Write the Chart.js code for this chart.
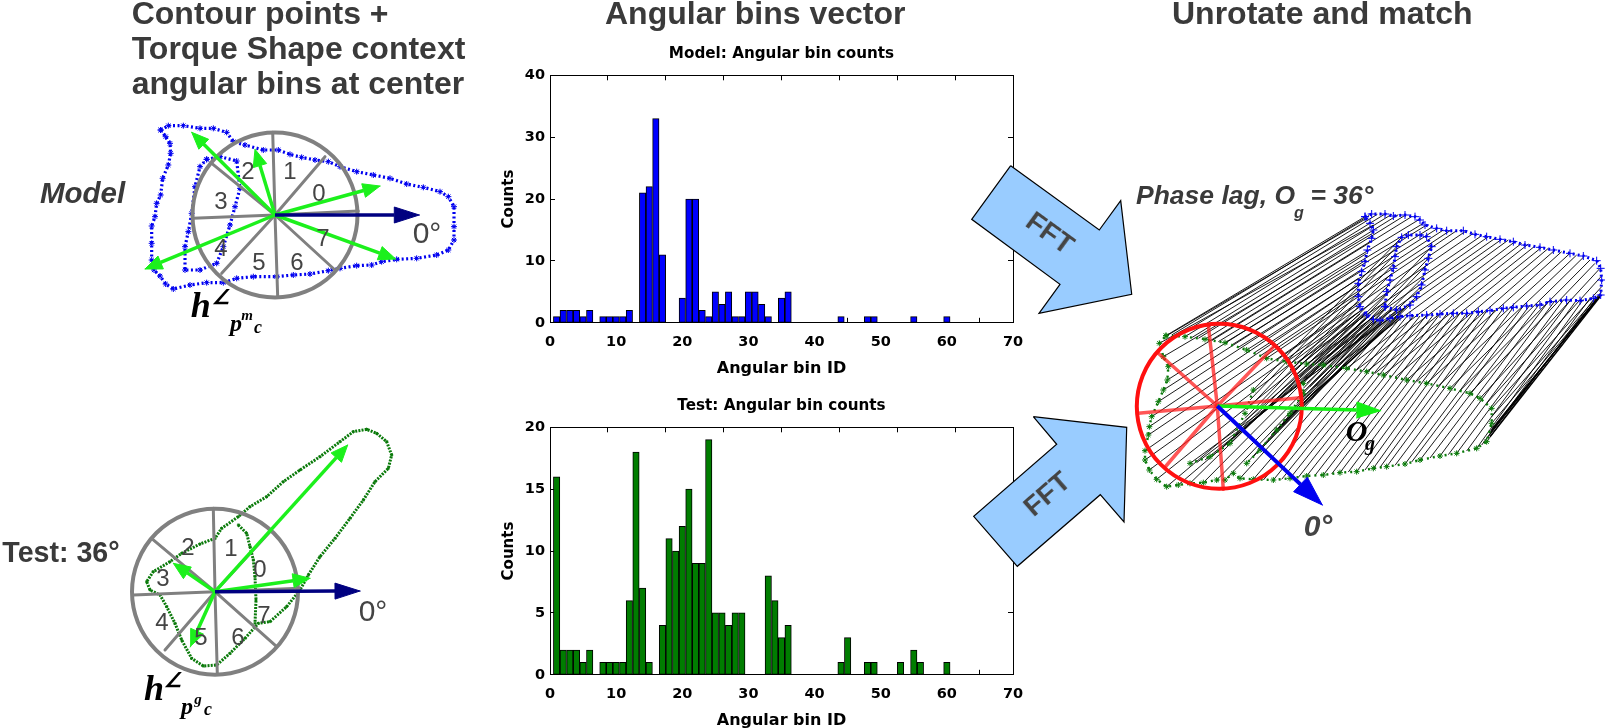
<!DOCTYPE html>
<html><head><meta charset="utf-8">
<script src="https://cdn.jsdelivr.net/npm/chart.js@4/dist/chart.umd.min.js"></script>
<style>
html,body{margin:0;padding:0;background:#fff;width:1605px;height:728px;overflow:hidden}
canvas{position:absolute}
.t{position:absolute;white-space:nowrap;font-family:"Liberation Sans",sans-serif;color:#3c3c3c;line-height:1}
.c{transform:translate(-50%,-50%)}
</style></head><body>
<canvas id="hModel" width="599" height="345" style="left:480px;top:35px;width:599px;height:345px"></canvas>
<canvas id="hTest" width="599" height="345" style="left:480px;top:387px;width:599px;height:345px"></canvas>
<canvas id="fig" width="1605" height="728" style="left:0;top:0;width:1605px;height:728px"></canvas>
<div id="labels"></div>
<script>
// ---------- histogram data ----------
const modelBins   = [1,2,3,4,5,6,8,9,10,11,12,14,15,16,17,20,21,22,23,24,25,26,27,28,29,30,31,32,33,35,36,44,48,49,55,60];
const modelCounts = [1,2,2,2,1,2,1,1,1,1,2,21,22,33,11,4,20,20,2,1,5,3,5,1,1,5,5,3,1,4,5,1,1,1,1,1];
const testBins    = [1,2,3,4,5,6,8,9,10,11,12,13,14,15,17,18,19,20,21,22,23,24,25,26,27,28,29,33,34,35,36,44,45,48,49,53,55,56,60];
const testCounts  = [16,2,2,2,1,2,1,1,1,1,6,18,7,1,4,11,10,12,15,9,9,19,5,5,4,5,5,8,6,3,4,1,3,1,1,1,2,1,1];
const modelTitle = "Model: Angular bin counts";
const testTitle  = "Test: Angular bin counts";
const xAxisLabel = "Angular bin ID";
const yAxisLabel = "Counts";

// ---------- diagram data ----------
const modelCentre = [275,215];
const modelSpokes = [[272.7,132.3],[325,156.7],[358.3,211],[335,270],[277.7,296.7],[221.7,273.3],[192.7,218.3],[211.7,163.3]];
const modelArrows = [[380,186],[145,269],[191.7,132.3],[255,149.3],[395.7,259]];
const modelZero   = [419.3,215];
const modelOuter = [[482,90],[505,77],[550,77],[600,85],[640,85],[680,97],[700,125],[735,135],[790,150],[835,150],[870,163],[905,172],[945,180],[985,185],[1020,200],[1070,215],[1120,225],[1170,235],[1220,252],[1270,262],[1320,275],[1345,290],[1362,320],[1362,380],[1362,420],[1345,450],[1310,465],[1250,475],[1190,478],[1145,485],[1115,495],[1070,497],[1020,505],[985,512],[930,522],[880,525],[830,530],[760,530],[710,535],[670,548],[620,548],[570,555],[520,567],[497,552],[480,528],[462,510],[455,480],[455,430],[455,378],[465,350],[470,310],[482,285],[488,235],[505,195],[512,160],[510,130],[497,110],[482,90]];
const modelInner = [[620,178],[660,170],[710,183],[720,265],[705,320],[690,375],[670,440],[650,490],[600,510],[555,510],[555,440],[565,395],[575,340],[585,260],[600,200],[620,178]];

const testCentre = [215,591.7];
const testSpokes = [[213.3,508.3],[270,531.7],[299.3,588.3],[276.7,646.7],[217.3,673.3],[165,650],[133.3,595],[152.7,539.3]];
const testArrows = [[347.7,445],[310,578.3],[173.3,563.3],[190,646.7]];
const testZero   = [360,591];
const testOuter = [[1100,88],[1060,95],[1020,125],[960,170],[900,210],[850,245],[800,290],[750,320],[715,350],[665,385],[645,415],[600,432],[545,460],[510,485],[460,515],[440,545],[450,570],[480,585],[500,620],[525,670],[545,720],[575,775],[610,798],[650,795],[690,760],[735,715],[775,670],[810,665],[860,620],[900,570],[925,525],[960,470],[1005,415],[1050,355],[1090,300],[1125,245],[1165,205],[1175,165],[1160,125],[1130,100],[1100,88]];
const testInner = [[715,375],[740,400],[750,440],[760,480],[765,530],[768,600],[765,670]];

const fftArrowA = [[1010.7,165.7],[1099.3,230],[1120.7,200.7],[1131.7,294.3],[1039,313.3],[1060,284.3],[971.7,219.3],[1010.7,165.7]];
const fftArrowB = [[1033.3,416.7],[1126.7,427.3],[1124,522],[1100.3,494.7],[1017.3,566.3],[973.7,516.3],[1056.7,444.3],[1033.3,416.7]];

const matchCircle = [1219.3,406.3];
const matchCentre = [1217.3,406];
const matchSpokes = [[1208.3,325],[1272.7,347.7],[1300,397.7],[1223.3,489.3],[1166,466],[1138.3,413.3],[1158.3,353.3]];
const matchGreen  = [1380.7,410.7];
const matchBlue   = [1322.3,505];
const cylGreenOuter = [[228,497],[285,500],[345,508],[405,518],[470,540],[530,565],[590,575],[650,582],[700,585],[770,595],[830,605],[880,615],[950,630],[1010,640],[1080,655],[1140,670],[1170,685],[1205,715],[1205,760],[1190,815],[1160,835],[1100,850],[1050,858],[990,870],[945,882],[890,890],[850,895],[800,905],[750,908],[700,915],[650,918],[600,925],[550,930],[490,928],[450,925],[430,910],[405,930],[380,930],[340,938],[300,940],[265,945],[230,950],[200,928],[178,900],[165,870],[165,842],[175,795],[178,770],[185,740],[205,695],[220,660],[232,630],[235,590],[220,560],[208,520],[228,497]];
const cylGreenInnerA = [[640,640],[640,670],[600,730],[560,780],[510,840],[470,880]];
const cylGreenInnerB = [[490,660],[465,730],[420,820],[360,860],[300,880]];
const cylBlueOuter = [[75,50],[95,42],[135,42],[160,48],[195,45],[225,50],[240,60],[255,75],[290,85],[320,92],[370,92],[405,103],[440,110],[480,118],[520,125],[555,135],[600,142],[640,150],[690,160],[730,168],[770,182],[782,205],[785,240],[782,285],[760,295],[720,302],[680,300],[630,305],[600,315],[560,318],[520,322],[490,325],[450,332],[415,335],[380,340],[340,340],[300,342],[260,345],[210,347],[180,350],[150,355],[120,362],[100,358],[80,345],[60,320],[55,290],[55,250],[65,215],[75,185],[82,150],[95,115],[100,90],[90,70],[75,50]];
const cylBlueInner = [[135,320],[170,330],[210,315],[230,290],[245,255],[255,210],[265,175],[275,140],[260,110],[240,105],[205,105],[185,112],[170,140],[165,170],[160,205],[150,240],[140,275],[135,320]];
// contour correspondences: green x,y -> blue x,y
const cylLinks = [
[228,497,825,140],[232,496,830,145],[245,495,838,136],[265,497,862,133],[285,500,885,132],[305,503,905,133],[325,505,925,134],[345,508,945,136],[365,512,965,140],[385,515,985,150],[405,518,1000,160],[425,525,1010,165],[445,532,1025,172],[470,540,1040,177],[490,550,1060,180],[510,558,1080,182],[530,565,1100,182],[560,570,1125,185],[590,575,1150,190],[620,578,1175,197],[650,582,1195,200],[675,583,1215,205],[700,585,1235,208],[735,590,1255,210],[770,595,1275,215],[800,600,1295,220],[830,605,1315,222],[855,610,1335,228],[880,615,1355,232],[915,622,1375,235],[950,630,1395,240],[980,635,1415,245],[1010,640,1440,250],[1045,648,1460,255],[1080,655,1480,262],[1110,662,1500,270],[1140,670,1515,280],[1170,685,1530,295],[1190,700,1533,320],[1205,715,1535,350],[1205,740,1535,365],[1205,760,1530,375],[1200,785,1525,380],[1190,815,1515,383],[1175,825,1500,385],[1160,835,1480,388],[1130,843,1460,390],[1100,850,1440,392],[1075,854,1420,390],[1050,858,1395,392],[1020,864,1375,395],[990,870,1350,400],[965,876,1320,405],[945,882,1300,408],[915,886,1270,412],[890,890,1240,415],[870,892,1215,420],[850,895,1190,423],[825,900,1170,425],[800,905,1150,428],[775,906,1130,430],[750,908,1110,430],[725,912,1090,432],[700,915,1070,432],[675,916,1050,432],[650,918,1030,435],[625,922,1010,435],[600,925,990,438],[575,928,970,438],[550,930,950,440],[520,930,930,445],[490,928,900,450],[450,925,880,452],[405,930,860,455],[380,930,850,452],[340,938,835,438],[300,940,825,425],[265,945,848,448],[230,950,835,440],[200,928,825,430],[178,900,815,420],[165,870,810,410],[165,842,808,395],[175,795,805,370],[178,770,805,345],[185,740,805,325],[205,695,812,300],[220,660,820,275],[232,630,830,250],[235,590,840,215],[220,560,848,190],[208,520,850,165],
[490,660,935,202],[480,690,925,225],[470,720,918,250],[465,745,912,280],[450,770,905,310],[430,800,897,345],[420,820,890,370],[395,835,885,395],[370,855,885,410],[345,870,905,415],[320,878,925,418],[300,880,945,412],
[640,640,1025,230],[640,655,1020,260],[640,670,1010,285],[620,700,1002,320],[600,730,993,350],[580,755,980,380],[560,780,960,405],[535,810,945,415],[510,840,925,420],[490,860,905,418],[470,880,890,412],
[600,600,800,430],[610,605,810,432],[620,612,820,438],[630,620,830,445],[640,628,840,448],[650,640,850,452],[660,650,860,455],[680,650,880,450],
[1195,800,1520,385],[1198,795,1522,384],[1200,790,1525,382],[1202,785,1527,380],[1205,780,1530,378],[1206,775,1532,375]];
const cylHeavy = [[545,795,660,680],[660,680,935,435],[1200,800,1530,380]];

const headings = [["Contour points +",131.7,-3],["Torque Shape context",131.7,31.8],["angular bins at center",131.7,66.6],["Angular bins vector",605,-3],["Unrotate and match",1172,-3]];
const modelDigits = [["0",319,193],["1",290,171],["2",248,171],["3",221,201],["4",221,248],["5",259,262],["6",297,262],["7",323,238]];
const testDigits  = [["0",260,569],["1",231,548],["2",188,547],["3",163,578],["4",162,622],["5",201,637],["6",238,637],["7",264,615]];

// ---------- reading grids to page pixels ----------
const g5  = p => ({x:p[0]/3, y:100+p[1]/3});
const g6  = p => ({x:p[0]/3, y:400+p[1]/3});
const g7  = p => ({x:1090+p[0]/3, y:170+p[1]/3});
const g10 = p => ({x:1340+p[0]/3, y:200+p[1]/3});
const pg  = p => ({x:p[0], y:p[1]});

// ---------- histograms ----------
const tickFont = {family:'"DejaVu Sans"',size:14.5,weight:'bold'};
const titleFont = {family:'"DejaVu Sans"',size:15.2,weight:'bold'};
const xLabelFont = {family:'"DejaVu Sans"',size:16,weight:'bold'};
const yLabelFont = {family:'"DejaVu Sans"',size:15,weight:'bold'};
function histogram(id,title,bins,counts,colour,yMax,yStep){
  return new Chart(document.getElementById(id),{
    type:'bar',
    data:{datasets:[{data:bins.map((b,i)=>({x:b,y:counts[i]})),backgroundColor:colour,borderColor:'#000',borderWidth:1,borderSkipped:false,barThickness:6.4}]},
    options:{responsive:false,animation:false,events:[],
      layout:{padding:{left:0,right:66,top:0,bottom:0}},
      plugins:{legend:{display:false},tooltip:{enabled:false},
        title:{display:true,fullSize:false,text:title,color:'#000',font:titleFont,padding:{top:9.5,bottom:12.56}}},
      scales:{
        x:{type:'linear',position:'bottom',min:0,max:70,offset:false,
           ticks:{stepSize:10,color:'#000',font:tickFont,padding:16,maxRotation:0},
           border:{color:'#000'},grid:{drawOnChartArea:false,tickLength:-5,tickColor:'#000'},
           title:{display:true,text:xAxisLabel,color:'#000',font:xLabelFont,padding:{top:0,bottom:1.4}},
           afterFit:s=>{s.height=57.2}},
        x2:{type:'linear',position:'top',min:0,max:70,
           ticks:{stepSize:10,display:false},
           border:{color:'#000'},grid:{drawOnChartArea:false,tickLength:-5,tickColor:'#000'},
           afterFit:s=>{s.height=0}},
        y:{position:'left',min:0,max:yMax,
           ticks:{stepSize:yStep,color:'#000',font:tickFont,padding:10},
           border:{color:'#000'},grid:{drawOnChartArea:false,tickLength:-5,tickColor:'#000'},
           title:{display:true,text:yAxisLabel,color:'#000',font:yLabelFont,padding:{top:19.7,bottom:0}},
           afterFit:s=>{s.width=70}},
        y2:{position:'right',min:0,max:yMax,
           ticks:{stepSize:yStep,display:false},
           border:{color:'#000'},grid:{drawOnChartArea:false,tickLength:-5,tickColor:'#000'},
           afterFit:s=>{s.width=0}}
      }}
  });
}
histogram('hModel',modelTitle,modelBins,modelCounts,'#0000ff',40,10);
histogram('hTest',testTitle,testBins,testCounts,'#007d00',20,5);

// ---------- diagram through one hidden pixel-scaled chart ----------
const ds = [];
function line(pts,colour,width,extra){ds.push(Object.assign({data:pts,showLine:true,borderColor:colour,borderWidth:width,pointRadius:0,tension:0,fill:false,clip:false,borderCapStyle:'round'},extra||{}));}
function ring(c,r,colour,width){ds.push({data:[pg(c)],showLine:false,pointRadius:r,pointBackgroundColor:'rgba(0,0,0,0)',pointBorderColor:colour,pointBorderWidth:width,clip:false});}
function arrow(from,to,colour,width,len,half){
  const dx=to[0]-from[0],dy=to[1]-from[1],d=Math.hypot(dx,dy),ux=dx/d,uy=dy/d;
  const bx=to[0]-ux*len,by=to[1]-uy*len;
  line([pg(from),{x:bx,y:by}],colour,width,{borderCapStyle:'butt'});
  line([pg(to),{x:bx-uy*half,y:by+ux*half},{x:bx+uy*half,y:by-ux*half},pg(to)],colour,1,{fill:'shape',backgroundColor:colour});
}
function dotted(pts,colour,width,style,radius,dash){
  line(pts,colour,width,{borderDash:dash||[2,2.5],borderCapStyle:'butt',pointStyle:style,pointRadius:radius,pointBorderColor:colour,pointBackgroundColor:colour,pointBorderWidth:1});
}
const GREY='#808080', LIME='#1cf01c', NAVY='#000080';

// FFT arrows
line(fftArrowA.map(pg),'#000',1.2,{fill:'shape',backgroundColor:'#99ccff',borderCapStyle:'butt'});
line(fftArrowB.map(pg),'#000',1.2,{fill:'shape',backgroundColor:'#99ccff',borderCapStyle:'butt'});

// model panel
dotted(modelOuter.map(g5),'#0000f0',3.2,'star',3);
dotted(modelInner.map(g5),'#0000f0',3.2,'star',3);
ring(modelCentre,82.5,GREY,4);
modelSpokes.forEach(p=>line([pg(modelCentre),pg(p)],GREY,3));
modelArrows.forEach(p=>arrow(modelCentre,p,LIME,3.5,17,7));
arrow(modelCentre,modelZero,NAVY,3.5,25,8);

// test panel
dotted(testOuter.map(g6),'#0a7a0a',3,'star',1.5,[2,1.2]);
dotted(testInner.map(g6),'#0a7a0a',3,'star',1.5,[2,1.2]);
ring(testCentre,83,GREY,4);
testSpokes.forEach(p=>line([pg(testCentre),pg(p)],GREY,3));
testArrows.forEach(p=>arrow(testCentre,p,LIME,3.5,17,7));
arrow(testCentre,testZero,NAVY,3.5,25,8);

// matching panel
cylLinks.forEach(l=>line([g7([l[0],l[1]]),g7([l[2],l[3]])],'#000',0.9,{borderCapStyle:'butt'}));
cylHeavy.forEach(l=>line([g7([l[0],l[1]]),g7([l[2],l[3]])],'#000',1.5,{borderCapStyle:'butt'}));
dotted(cylBlueOuter.map(g10),'#0000f0',3,'cross',4,[2,3]);
dotted(cylBlueInner.map(g10),'#0000f0',3,'cross',4,[2,3]);
dotted(cylGreenOuter.map(g7),'#0a7a0a',2.4,'star',3,[2,4]);
dotted(cylGreenInnerA.map(g7),'#0a7a0a',2.4,'star',3,[2,4]);
dotted(cylGreenInnerB.map(g7),'#0a7a0a',2.4,'star',3,[2,4]);
matchSpokes.forEach(p=>line([pg(matchCentre),pg(p)],'rgba(255,30,30,0.75)',3.5));
ring(matchCircle,82.5,'#ff1010',4);
arrow(matchCentre,matchGreen,'#14f014',3.5,24,8);
arrow(matchCentre,matchBlue,'#0000f0',4,30,10);

new Chart(document.getElementById('fig'),{
  type:'scatter',
  data:{datasets:ds.reverse()},
  options:{responsive:false,animation:false,events:[],
    layout:{padding:0,autoPadding:false},
    plugins:{legend:{display:false},tooltip:{enabled:false},title:{display:false}},
    scales:{x:{type:'linear',display:false,min:0,max:1605},
            y:{type:'linear',display:false,min:0,max:728,reverse:true}}}
});

// ---------- text ----------
const host=document.getElementById('labels');
function put(txt,x,y,css,centre){
  const s=document.createElement('span');
  s.className='t'+(centre?' c':'');
  s.textContent=txt;s.style.left=x+'px';s.style.top=y+'px';
  s.style.cssText+=';'+css;host.appendChild(s);
}
const BOLD='font-weight:bold;font-size:32px;color:#3a3a3a';
headings.forEach(h=>put(h[0],h[1],h[2],BOLD,false));
modelDigits.concat(testDigits).forEach(d=>put(d[0],d[1],d[2],'font-size:24px;color:#444',true));
put("0°",427,233,'font-size:30px;color:#444',true);
put("0°",373,611,'font-size:30px;color:#444',true);
put("Model",82.5,193,'font-size:29.5px;font-weight:bold;font-style:italic;color:#3a3a3a',true);
put("Test: 36°",61,552,'font-size:28.6px;font-weight:bold;color:#3a3a3a',true);
put("Phase lag, O",1136,182,'font-size:26.5px;font-weight:bold;font-style:italic;color:#3a3a3a',false);
put("g",1299,213,'font-size:16px;font-weight:bold;font-style:italic;color:#3a3a3a',true);
put("= 36°",1310.5,182,'font-size:26.5px;font-weight:bold;font-style:italic;color:#3a3a3a',false);
put("0°",1318,526,'font-size:30px;font-style:italic;font-weight:bold;color:#444',true);
const SERIF='font-family:"Liberation Serif",serif;font-weight:bold;font-style:italic;color:#000;';
put("h",200.7,305,SERIF+'font-size:36px',true);
put("∠",221,297,SERIF+'font-size:20px',true);
put("p",236,322.7,SERIF+'font-size:24px',true);
put("m",247,315,SERIF+'font-size:15px',true);
put("c",258,326.7,SERIF+'font-size:18px',true);
put("h",154,688,SERIF+'font-size:36px',true);
put("∠",173,680,SERIF+'font-size:20px',true);
put("p",187,706,SERIF+'font-size:24px',true);
put("g",198,699,SERIF+'font-size:15px',true);
put("c",208,709,SERIF+'font-size:18px',true);
put("O",1356.7,431,SERIF+'font-size:30px',true);
put("g",1370,443,SERIF+'font-size:20px',true);
put("FFT",1050,232.7,'font-size:28px;font-weight:bold;color:#444;transform:translate(-50%,-50%) rotate(36deg)',false);
put("FFT",1047,494,'font-size:28px;font-weight:bold;color:#444;transform:translate(-50%,-50%) rotate(-41deg)',false);
</script>
</body></html>
